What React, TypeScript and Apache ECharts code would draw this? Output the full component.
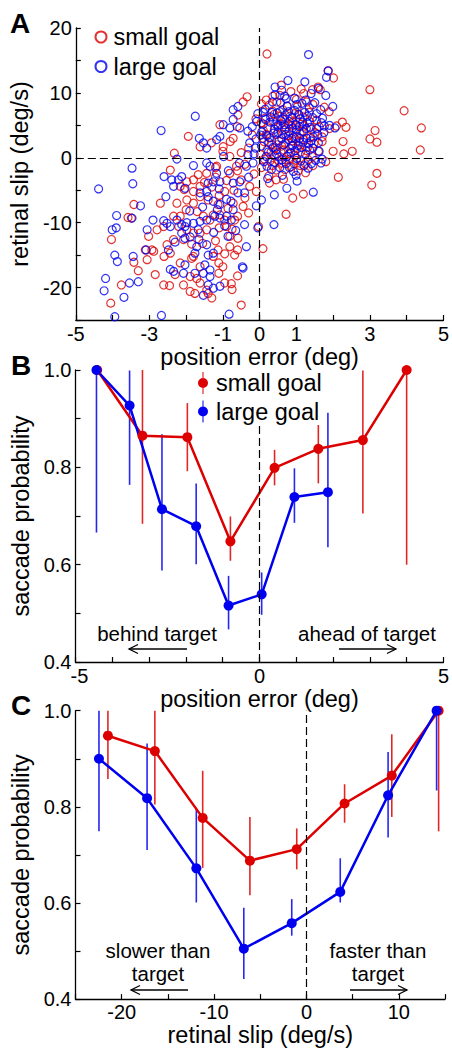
import React, { useEffect, useRef } from "react";
import * as echarts from "echarts";

const FONT = "'Liberation Sans', Arial, Helvetica, sans-serif";
const RED = "#dd0000";
const BLUE = "#0000f0";

// ---------- Panel A: scatter (position error deg, retinal slip deg/s) ----------
const smallGoalScatter: number[][] = [
  [0.2, 16.0], [2.01, 12.3], [1.87, 13.4], [3.0, 10.5], [3.93, 7.25], [4.4, 4.6], [4.37, 1.2], [3.14, 4.2],
  [3.0, 2.9], [3.19, 2.4], [3.19, -2.4], [3.05, -4.2], [2.14, -3.0], [2.52, 1.0], [2.29, 0.6], [2.27, 2.5],
  [2.35, 4.7], [2.25, 5.5], [2.09, 4.9], [1.89, 7.1], [1.76, 7.8], [1.59, 10.9], [1.44, 10.5], [1.13, 10.6],
  [0.59, 11.2], [0.36, 9.5], [0.18, 8.9], [0.05, 8.3], [-0.34, 9.4], [-0.45, 8.6], [-0.59, 6.6], [-1.94, 3.3],
  [-1.62, 1.7], [-2.32, 0.7], [-2.43, -1.9], [-1.31, 2.3], [-1.08, 5.1], [-0.99, 1.7], [-0.72, 3.0], [-0.61, 4.8],
  [-0.81, 0.2], [-1.17, -1.3], [-1.44, -2.4], [-1.62, -4.4], [-1.8, -5.2], [-1.98, -6.5], [-2.25, -7.0], [-1.62, -6.0],
  [-1.4, -6.5], [-1.13, -7.2], [-0.86, -7.8], [-0.72, -7.0], [-0.45, -7.5], [-0.27, -4.4], [-0.09, -5.2], [0.27, -3.9],
  [0.45, -3.4], [0.72, -8.7], [0.9, -6.2], [1.19, -5.6], [0.09, -14.0], [-0.03, -10.6], [-0.5, -22.7], [-0.75, -20.3],
  [-0.77, -19.4], [-0.95, -19.3], [-1.11, -17.8], [-1.11, -16.2], [-1.26, -15.2], [-1.13, -14.2], [-0.81, -13.7], [-0.6, -14.2],
  [-0.68, -15.0], [-0.59, -12.4], [-0.81, -12.1], [-0.9, -10.6], [-0.68, -9.6], [-0.95, -9.6], [-1.08, -8.8], [-1.26, -8.8],
  [-1.53, -9.0], [-1.44, -11.1], [-1.62, -11.6], [-1.8, -11.6], [-1.98, -11.1], [-2.07, -12.6], [-2.34, -12.6], [-2.52, -13.4],
  [-2.43, -14.7], [-2.16, -16.2], [-1.85, -15.5], [-1.8, -15.2], [-1.62, -16.8], [-1.71, -18.6], [-1.89, -18.3], [-2.07, -19.6],
  [-1.89, -20.6], [-1.76, -20.9], [-1.62, -19.3], [-1.44, -20.4], [-1.4, -20.9], [-2.45, -19.7], [-2.61, -19.6], [-2.84, -18.0],
  [-3.06, -15.7], [-2.93, -14.2], [-2.88, -14.4], [-3.11, -14.2], [-3.02, -12.1], [-2.79, -11.1], [-2.61, -10.6], [-2.34, -9.0],
  [-2.16, -9.0], [-2.7, -7.0], [-1.8, -7.0], [-1.8, -3.4], [-1.67, -2.6], [-1.98, -3.7], [-2.16, -4.4], [-3.42, -7.2],
  [-3.58, -9.2], [-3.49, -9.3], [-4.03, -12.6], [-3.42, -16.1], [-3.3, -17.4], [-3.76, -19.6], [-4.05, -22.4],
  [-0.81, -2.4], [-0.63, -1.3], [-0.5, -3.4],
  [0.1, 4.2], [0.3, 3.1], [0.5, 4.8], [0.7, 2.2], [0.9, 5.5], [1.1, 3.7], [1.3, 1.6], [0.2, 1.2], [0.4, 0.3], [0.6, -0.8],
  [0.8, 0.6], [1.0, -0.4], [1.2, 2.8], [1.4, 4.4], [0.15, 6.1], [0.35, 7.2], [0.55, 6.4], [0.75, 7.9], [0.95, 6.8], [1.15, 5.2],
  [1.35, 7.0], [1.55, 5.8], [1.7, 3.2], [1.6, 1.0], [1.8, -0.6], [1.45, -1.2], [1.25, -2.3], [0.05, -1.5], [0.25, -2.8], [0.45, -1.9],
  [0.65, -3.3], [0.85, -1.4], [1.05, -2.0], [0.12, 2.5], [0.38, 5.6], [0.62, 3.6], [0.88, 1.8], [1.12, 0.9], [1.38, 3.1], [0.02, 0.5],
  [0.48, 2.0], [0.72, 4.5], [0.98, 2.9], [1.22, 4.9], [1.48, 2.2], [0.28, -0.5], [0.58, 0.9], [0.82, -0.2], [1.02, 1.4], [1.32, -0.3],
  [0.18, 3.6], [0.42, 1.5], [0.68, 5.9], [0.92, 3.2], [1.18, 6.3], [0.55, 9.6], [1.0, 9.0], [1.45, 8.2], [0.85, 10.2], [1.2, 9.9],
  [1.65, 10.5], [1.9, 4.5], [1.7, 2.5], [2.0, 1.0],
  [-0.2, 3.5], [-0.1, 6.0], [-0.3, 1.5], [-0.4, -1.0], [-0.15, -2.5], [-0.6, -2.0], [-0.5, 0.8], [-0.8, 2.5], [-1.0, 1.0],
  [-1.2, -1.5], [-0.9, -3.5], [-1.3, -4.5], [-0.7, -5.0], [-1.1, -5.8], [-1.5, -3.8], [-0.4, -6.2],
  [0.08, 3.0], [0.22, 4.6], [0.33, 2.0], [0.46, 3.6], [0.57, 5.2], [0.66, 1.2], [0.78, 3.4], [0.87, 4.9], [0.96, 0.4], [1.08, 2.4],
  [1.16, 4.1], [1.27, 1.1], [1.36, 5.6], [1.43, 0.2], [0.13, -0.2], [0.31, 0.9], [0.52, -0.5], [0.69, -1.8], [0.79, 5.1], [0.94, -0.9],
  [1.07, 6.6], [1.24, -0.9], [0.4, 6.7], [0.63, 7.4], [0.83, 6.4], [1.03, 7.9], [0.26, 8.1], [0.47, 8.6], [1.28, 8.6], [0.04, 5.4],
  [0.7, -0.3], [0.9, 2.6], [1.1, -1.2], [0.35, -1.2], [1.5, 3.9], [1.62, 4.8], [0.6, 1.8], [1.0, 5.0],
  [-2.0, -8.0], [-1.7, -8.3], [-1.35, -9.6], [-1.1, -10.8], [-0.75, -11.0], [-2.2, -10.6], [-1.55, -13.2], [-1.2, -12.8],
  [-0.95, -14.8], [-1.85, -13.3], [-2.6, -15.2], [-2.3, -18.0], [-1.0, -16.8], [-0.6, -18.2], [-1.3, -21.6], [-2.05, -4.9],
  [-1.2, -3.0], [-0.95, -5.2], [-0.6, -9.0], [-0.3, -8.5],
];

const largeGoalScatter: number[][] = [
  [1.33, 15.9], [1.86, 13.4], [1.82, 12.4], [0.77, 11.9], [1.23, 11.7], [0.42, 10.9], [0.68, 9.5], [1.8, 9.6],
  [1.99, 7.9], [1.71, 6.1], [1.76, 4.9], [1.67, -0.8], [1.46, -5.3], [0.74, -4.7], [0.4, -5.7], [0.39, -10.3],
  [0.05, -6.5], [-0.05, -10.8], [-0.09, -7.4], [-0.36, -13.7], [-0.47, -16.8], [-0.45, -17.0], [-0.41, -10.3], [-0.83, -24.1],
  [-1.53, -21.2], [-1.4, -19.6], [-1.26, -20.1], [-1.08, -19.8], [-1.35, -18.3], [-1.35, -17.3], [-1.49, -16.5], [-1.4, -15.0],
  [-1.26, -14.7], [-1.44, -13.4], [-1.71, -13.7], [-1.76, -14.7], [-1.89, -12.2], [-2.03, -12.4], [-2.03, -10.6], [-1.98, -10.0],
  [-1.8, -10.1], [-1.67, -11.1], [-1.62, -9.8], [-1.44, -9.6], [-1.22, -9.0], [-1.08, -9.3], [-0.9, -9.0], [-0.77, -9.6],
  [-0.86, -12.1], [-0.72, -8.0], [-0.78, -6.7], [-0.9, -6.4], [-0.59, -5.4], [-0.41, -5.4], [-0.72, -3.9], [-0.54, -3.7],
  [-0.36, -1.3], [-0.18, -0.8], [-0.32, 0.5], [-0.27, 2.3], [-0.32, 4.1], [-0.54, 4.6], [-0.72, 5.9], [-0.59, 7.9],
  [-0.72, 7.4], [-0.81, 4.6], [-0.99, 5.1], [-1.08, 3.3], [-1.17, 2.8], [-1.44, 1.5], [-1.53, 2.3], [-1.64, 3.0],
  [-1.75, 6.4], [-2.68, 4.2], [-2.25, -0.2], [-1.44, -0.8], [-1.35, -1.3], [-1.17, -2.4], [-1.08, -3.7], [-1.26, -3.7],
  [-1.4, -3.9], [-1.44, -5.2], [-1.62, -5.4], [-1.4, -6.0], [-1.26, -6.7], [-1.08, -7.2], [-2.12, -2.9], [-2.21, -3.4],
  [-2.39, -3.4], [-2.34, -4.4], [-2.03, -4.7], [-2.55, -6.0], [-2.61, -9.7], [-2.52, -10.1], [-2.43, -10.6], [-2.25, -9.6],
  [-2.12, -10.3], [-2.12, -11.6], [-2.48, -14.2], [-2.43, -17.2], [-2.34, -17.5], [-2.07, -17.8], [-2.03, -16.5], [-1.76, -17.8],
  [-1.53, -17.8], [-2.67, -24.3], [-2.9, -9.6], [-3.06, -11.1], [-3.09, -14.2], [-3.3, -19.1], [-3.54, -19.3], [-3.44, -15.2],
  [-3.47, -9.3], [-3.24, -7.4], [-3.47, -1.6], [-3.45, -4.0], [-3.89, -8.9], [-3.9, -10.8], [-4.01, -11.1], [-3.94, -15.0],
  [-3.87, -16.0], [-4.19, -18.6], [-4.23, -20.5], [-3.69, -21.5], [-3.94, -24.5], [-4.38, -4.8],
  [0.1, 5.2], [0.3, 6.3], [0.5, 5.0], [0.7, 6.6], [0.9, 4.6], [1.1, 6.0], [1.3, 5.4], [0.2, 3.4], [0.4, 4.4], [0.6, 3.0],
  [0.8, 4.1], [1.0, 3.3], [1.2, 4.0], [1.4, 2.6], [0.05, 1.8], [0.25, 2.4], [0.45, 1.2], [0.65, 2.0], [0.85, 0.8], [1.05, 1.9],
  [1.25, 0.6], [1.45, 1.5], [0.15, 7.5], [0.35, 8.6], [0.55, 7.1], [0.75, 8.0], [0.95, 7.3], [1.15, 8.4], [1.35, 7.7], [1.55, 6.8],
  [0.12, -0.6], [0.32, -1.8], [0.52, 0.1], [0.72, -0.9], [0.92, -2.1], [1.12, -0.5], [1.32, -1.6], [1.52, -0.4], [0.22, -3.2], [0.62, -2.7],
  [1.02, -3.6], [-0.1, 2.9], [-0.2, 4.8], [-0.05, 6.8], [-0.15, 0.6], [0.38, 3.8], [0.58, 5.7], [0.78, 2.8], [0.98, 5.1], [1.18, 2.4],
  [1.38, 4.7], [1.58, 3.6], [0.48, 6.9], [0.68, 4.3], [0.88, 6.2], [1.08, 4.8], [1.28, 3.0], [0.28, 5.5], [0.18, 0.2], [0.82, 1.4],
  [1.62, 1.0], [1.7, -0.2], [1.5, 8.5], [1.66, 7.4], [1.75, 3.9], [0.42, 9.7], [0.95, 9.2], [1.25, 8.9], [1.4, 9.9], [0.6, 10.4],
  [1.6, 10.7], [1.9, 5.0], [2.05, 4.6],
  [0.06, 4.0], [0.16, 5.9], [0.27, 3.1], [0.36, 1.6], [0.44, 5.2], [0.53, 2.6], [0.63, 6.0], [0.71, 3.6], [0.81, 5.6], [0.9, 1.9],
  [1.0, 4.3], [1.09, 3.0], [1.17, 5.5], [1.27, 4.5], [1.36, 1.2], [1.46, 3.2], [1.55, 4.5], [0.1, 7.0], [0.33, 7.0], [0.57, 8.5],
  [0.79, 7.1], [1.01, 8.2], [1.22, 7.0], [1.44, 6.2], [0.2, -1.3], [0.41, -0.7], [0.61, -0.3], [0.81, -1.5], [1.01, -0.1], [1.21, -1.2],
  [1.41, -0.9], [0.03, 3.5], [0.5, 3.9], [0.74, 0.2], [0.96, 1.1], [1.14, 1.6], [1.33, 2.2], [0.24, 0.9], [0.67, 5.1], [0.87, 3.0],
  [1.06, 6.7], [1.3, 6.4], [0.46, 0.6], [-0.08, 5.6], [-0.12, 1.5], [0.55, -1.5], [0.99, -2.7], [1.6, 2.3], [1.68, 5.4], [0.72, 9.1],
  [-1.9, -8.2], [-1.55, -7.6], [-1.15, -8.0], [-0.95, -10.5], [-0.65, -11.2], [-1.25, -11.5], [-1.65, -12.6], [-2.3, -13.0],
  [-1.1, -4.8], [-0.85, -2.0], [-0.55, -0.8], [-0.98, 0.2], [-1.8, -1.2], [-2.6, -2.9], [-0.3, -3.0],
];

// ---------- Panel B: saccade probability vs position error ----------
const bSmallX = [-4.41, -3.18, -1.96, -0.79, 0.41, 1.6, 2.81, 4.0];
const bSmallY = [1.0, 0.865, 0.862, 0.648, 0.799, 0.838, 0.856, 1.0];
const bSmallLo = [1.0, 0.684, 0.792, 0.608, 0.763, 0.767, 0.705, 0.6];
const bSmallHi = [1.0, 1.0, 0.932, 0.699, 0.836, 0.887, 0.999, 1.0];
const bLargeX = [-4.43, -3.53, -2.65, -1.72, -0.84, 0.06, 0.95, 1.86];
const bLargeY = [1.0, 0.927, 0.714, 0.679, 0.516, 0.539, 0.739, 0.749];
const bLargeLo = [0.666, 0.764, 0.588, 0.601, 0.467, 0.497, 0.686, 0.636];
const bLargeHi = [1.0, 0.999, 0.868, 0.767, 0.577, 0.584, 0.798, 0.912];

// ---------- Panel C: saccade probability vs retinal slip ----------
const cSmallX = [-21.49, -16.41, -11.23, -6.12, -1.05, 4.13, 9.24, 14.31];
const cSmallY = [0.948, 0.916, 0.777, 0.688, 0.712, 0.807, 0.865, 1.0];
const cSmallLo = [0.858, 0.805, 0.673, 0.616, 0.67, 0.767, 0.779, 0.749];
const cSmallHi = [1.0, 1.0, 0.875, 0.779, 0.755, 0.847, 0.951, 1.0];
const cLargeX = [-22.46, -17.25, -11.92, -6.78, -1.59, 3.66, 8.84, 14.09];
const cLargeY = [0.9, 0.818, 0.672, 0.505, 0.558, 0.623, 0.824, 1.0];
const cLargeLo = [0.749, 0.71, 0.601, 0.442, 0.532, 0.601, 0.736, 0.834];
const cLargeHi = [1.0, 0.932, 0.797, 0.59, 0.608, 0.693, 0.914, 1.0];

const aXLabels = [-5, -3, -1, 0, 1, 3, 5];
const bXLabels = [-5, 0, 5];
const cXLabels = [-20, -10, 0, 10];

const zip = (xs: number[], ys: number[]) => xs.map((x, i) => [x, ys[i]]);

function errSeries(gi: number, xs: number[], lo: number[], hi: number[], color: string) {
  return {
    type: "custom",
    xAxisIndex: gi,
    yAxisIndex: gi,
    silent: true,
    z: 1,
    data: xs.map((x, i) => [x, lo[i], hi[i]]),
    encode: { x: 0, y: [1, 2] },
    renderItem: (_p: any, api: any) => {
      const a = api.coord([api.value(0), api.value(1)]);
      const b = api.coord([api.value(0), api.value(2)]);
      return {
        type: "line",
        shape: { x1: a[0], y1: a[1], x2: b[0], y2: b[1] },
        style: { stroke: color, lineWidth: 1.6, opacity: 0.85 },
      };
    },
  };
}

function lineSeries(name: string, gi: number, xs: number[], ys: number[], color: string, extra: any = {}) {
  return {
    name,
    type: "line",
    xAxisIndex: gi,
    yAxisIndex: gi,
    data: zip(xs, ys),
    symbol: "circle",
    symbolSize: 10,
    z: 3,
    itemStyle: { color, borderWidth: 0 },
    lineStyle: { color, width: 2.5 },
    ...extra,
  };
}

const axisBase = {
  nameLocation: "middle",
  axisLine: { show: true, onZero: false, lineStyle: { color: "#000", width: 1.3 } },
  axisTick: { show: true, inside: true, length: 5, lineStyle: { color: "#000", width: 1.2 } },
  splitLine: { show: false },
  nameTextStyle: { color: "#000", fontSize: 23.5, fontFamily: FONT },
};
const labelBase = { color: "#000", fontSize: 20, fontFamily: FONT };

const dashStyle = { type: [8, 4], color: "#000", width: 1.2 };

const probLabel = (v: number) => {
  const t = Math.round(v * 10);
  return t % 2 === 0 ? (t / 10).toFixed(1) : "";
};

const legendIcon = "path://M4.5,0h1v22h-1z M10,11a5,5 0 1,1 -10,0a5,5 0 1,1 10,0z";

function txt(text: string, x: number, y: number, size: number, bold = false, align = "center") {
  return {
    type: "text",
    x,
    y,
    style: {
      text,
      fontSize: size,
      fontFamily: FONT,
      fontWeight: bold ? "bold" : "normal",
      fill: "#000",
      align,
      verticalAlign: "middle",
    },
  };
}

function arrow(x1: number, x2: number, y: number) {
  const dir = x2 > x1 ? 1 : -1;
  return [
    { type: "line", shape: { x1, y1: y, x2, y2: y }, style: { stroke: "#000", lineWidth: 1.3 } },
    {
      type: "polyline",
      shape: { points: [[x2 - dir * 9, y - 4.5], [x2, y], [x2 - dir * 9, y + 4.5]] },
      style: { stroke: "#000", lineWidth: 1.3, fill: "none" },
    },
  ];
}

const option: any = {
  animation: false,
  backgroundColor: "#fff",
  textStyle: { fontFamily: FONT },
  grid: [
    { left: 75.5, top: 28, width: 369.5, height: 292 },
    { left: 75.5, top: 370, width: 369.5, height: 292 },
    { left: 75.5, top: 710.7, width: 369.5, height: 292 },
  ],
  xAxis: [
    {
      ...axisBase, gridIndex: 0, type: "value", min: -5, max: 5, interval: 1,
      name: "position error (deg)", nameGap: 21,
      axisLabel: { ...labelBase, margin: 4, formatter: (v: number) => (aXLabels.includes(v) ? String(v) : "") },
    },
    {
      ...axisBase, gridIndex: 1, type: "value", min: -5, max: 5, interval: 1,
      name: "position error (deg)", nameGap: 21,
      axisLabel: {
        ...labelBase,
        margin: 4,
        formatter: (v: number) => (v === -5 ? "{m|-5}" : bXLabels.includes(v) ? String(v) : ""),
        rich: { m: { fontSize: 20, fontFamily: FONT, color: "#000", padding: [0, 0, 0, 8] } },
      },
    },
    {
      ...axisBase, gridIndex: 2, type: "value", min: -25, max: 15, interval: 5,
      name: "retinal slip (deg/s)", nameGap: 21,
      axisLabel: { ...labelBase, margin: 3, formatter: (v: number) => (cXLabels.includes(v) ? String(v) : "") },
    },
  ],
  yAxis: [
    {
      ...axisBase, gridIndex: 0, type: "value", min: -25, max: 20, interval: 5,
      name: "retinal slip (deg/s)", nameGap: 32,
      axisLabel: { ...labelBase, margin: 4, formatter: (v: number) => (v % 10 === 0 ? String(v) : "") },
    },
    {
      ...axisBase, gridIndex: 1, type: "value", min: 0.4, max: 1.0, interval: 0.1,
      name: "saccade probability", nameGap: 32,
      axisLabel: { ...labelBase, margin: 4, formatter: probLabel },
    },
    {
      ...axisBase, gridIndex: 2, type: "value", min: 0.4, max: 1.0, interval: 0.1,
      name: "saccade probability", nameGap: 32,
      axisLabel: { ...labelBase, margin: 4, formatter: probLabel },
    },
  ],
  legend: [
    {
      data: ["small goal", "large goal"],
      orient: "vertical",
      left: 94.5,
      top: 25,
      padding: 0,
      itemWidth: 11,
      itemHeight: 11,
      itemGap: 5.5,
      icon: "circle",
      selectedMode: false,
      textStyle: { fontSize: 23.5, color: "#000", fontFamily: FONT, padding: [0, 0, 0, 2] },
    },
    {
      data: ["B:small goal", "B:large goal"],
      formatter: (n: string) => n.replace("B:", ""),
      orient: "vertical",
      left: 198,
      top: 371,
      padding: 0,
      itemWidth: 10,
      itemHeight: 22,
      itemGap: 4.5,
      icon: legendIcon,
      selectedMode: false,
      backgroundColor: "#fff",
      textStyle: { fontSize: 23.5, color: "#000", fontFamily: FONT, padding: [0, 0, 0, 3] },
    },
  ],
  series: [
    {
      name: "small goal",
      type: "scatter",
      xAxisIndex: 0,
      yAxisIndex: 0,
      data: smallGoalScatter,
      symbol: "circle",
      symbolSize: 8,
      itemStyle: { color: "rgba(0,0,0,0)", borderColor: RED, borderWidth: 1.2 },
      z: 2,
    },
    {
      name: "large goal",
      type: "scatter",
      xAxisIndex: 0,
      yAxisIndex: 0,
      data: largeGoalScatter,
      symbol: "circle",
      symbolSize: 8,
      itemStyle: { color: "rgba(0,0,0,0)", borderColor: BLUE, borderWidth: 1.2 },
      z: 2,
      markLine: {
        silent: true,
        symbol: "none",
        label: { show: false },
        lineStyle: dashStyle,
        data: [{ xAxis: 0 }, { yAxis: 0 }],
      },
    },
    errSeries(1, bSmallX, bSmallLo, bSmallHi, RED),
    errSeries(1, bLargeX, bLargeLo, bLargeHi, BLUE),
    lineSeries("B:small goal", 1, bSmallX, bSmallY, RED, {
      markLine: {
        silent: true,
        symbol: "none",
        label: { show: false },
        lineStyle: dashStyle,
        data: [[{ coord: [0, 0.4] }, { coord: [0, 0.885] }]],
      },
    }),
    lineSeries("B:large goal", 1, bLargeX, bLargeY, BLUE),
    errSeries(2, cSmallX, cSmallLo, cSmallHi, RED),
    errSeries(2, cLargeX, cLargeLo, cLargeHi, BLUE),
    lineSeries("C:small goal", 2, cSmallX, cSmallY, RED, {
      markLine: {
        silent: true,
        symbol: "none",
        label: { show: false },
        lineStyle: dashStyle,
        data: [{ xAxis: 0 }],
      },
    }),
    lineSeries("C:large goal", 2, cLargeX, cLargeY, BLUE),
  ],
  graphic: [
    txt("A", 10, 23, 28, true, "left"),
    txt("B", 11, 365, 28, true, "left"),
    txt("C", 11, 705, 28, true, "left"),
    txt("behind target", 157, 633, 20.5),
    ...arrow(187, 129, 649),
    txt("ahead of target", 367, 633, 20.5),
    ...arrow(339, 396, 649),
    txt("slower than", 158, 950, 20.5),
    txt("target", 158, 973, 20.5),
    ...arrow(188, 131, 990),
    txt("faster than", 378, 950, 20.5),
    txt("target", 378, 973, 20.5),
    ...arrow(350, 407, 990),
  ],
};

export default function App() {
  const ref = useRef<HTMLDivElement>(null);
  useEffect(() => {
    document.body.style.margin = "0";
    const chart = echarts.init(ref.current as HTMLDivElement, undefined, {
      renderer: "svg",
      width: 452,
      height: 1048,
    });
    chart.setOption(option);
    return () => chart.dispose();
  }, []);
  return <div ref={ref} style={{ width: 452, height: 1048, position: "absolute", left: 0, top: 0 }} />;
}
